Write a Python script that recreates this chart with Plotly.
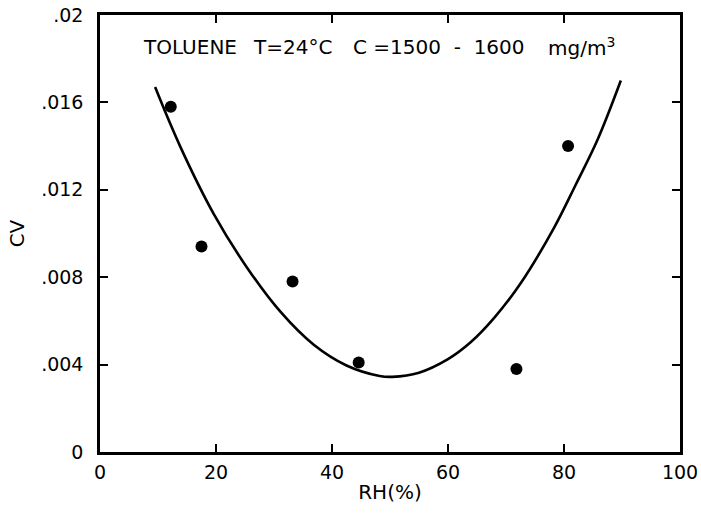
import plotly.graph_objects as go

# Measured data points
rh_points = [12.2, 17.5, 33.2, 44.6, 71.8, 80.7]
cv_points = [0.0158, 0.0094, 0.0078, 0.0041, 0.0038, 0.0140]

# Fitted curve
rh_curve = [9.5, 13.8, 19.6, 25.3, 31.1, 36.8, 42.5, 48.2, 50.4, 55.0, 60.0, 63.9, 68.0, 72.5, 78.3, 82.0, 85.8, 89.8]
cv_curve = [0.0167, 0.0140, 0.0109, 0.00846, 0.00642, 0.00492, 0.00396, 0.00348, 0.00344,
            0.00363, 0.00425, 0.00502, 0.00615, 0.00771, 0.01027, 0.01222, 0.0143, 0.0170]

x_ticks = [0, 20, 40, 60, 80, 100]
x_ticktext = ["0", "20", "40", "60", "80", "100"]
y_ticks = [0, 0.004, 0.008, 0.012, 0.016, 0.02]
y_ticktext = ["0", ".004", ".008", ".012", ".016", ".02"]

FONT = "DejaVu Sans, sans-serif"
NB = "\u00a0"

fig = go.Figure()
fig.add_trace(go.Scatter(x=rh_curve, y=cv_curve, mode="lines",
                         line=dict(color="black", width=2.6, shape="spline", smoothing=1.0),
                         showlegend=False, hoverinfo="skip"))
fig.add_trace(go.Scatter(x=rh_points, y=cv_points, mode="markers",
                         marker=dict(color="black", size=12),
                         showlegend=False))

ann_y = 0.01855
labels = [(7.0, "TOLUENE"), (26.0, "T=24°C"), (43.2, "C" + NB + "=1500" + NB * 2 + "-" + NB * 2 + "1600"),
          (76.9, "mg/m<sup>3</sup>")]
for xx, txt in labels:
    fig.add_annotation(x=xx, y=ann_y, xref="x", yref="y", text=txt, showarrow=False,
                       xanchor="left", yanchor="middle",
                       font=dict(family=FONT, size=20, color="black"))

fig.update_layout(
    width=701, height=516,
    margin=dict(l=100, r=21, t=15, b=64),
    paper_bgcolor="white", plot_bgcolor="white",
    font=dict(family=FONT, size=19, color="black"),
    xaxis=dict(range=[0, 100], tickvals=x_ticks, ticktext=x_ticktext, automargin=False,
               ticklabeloverflow="allow",
               showgrid=False, zeroline=False, showline=True, linecolor="black", linewidth=2.5,
               mirror="ticks", ticks="inside", ticklen=8, tickwidth=2, tickcolor="black",
               tickfont=dict(family=FONT, size=19), ticklabelstandoff=1,
               title=dict(text="RH(%)", font=dict(family=FONT, size=20), standoff=4)),
    yaxis=dict(range=[0, 0.02], tickvals=y_ticks, ticktext=y_ticktext, automargin=False,
               ticklabeloverflow="allow",
               showgrid=False, zeroline=False, showline=True, linecolor="black", linewidth=2.5,
               mirror="ticks", ticks="inside", ticklen=8, tickwidth=2, tickcolor="black",
               tickfont=dict(family=FONT, size=19), ticklabelstandoff=10,
               title=dict(text="CV", font=dict(family=FONT, size=20), standoff=12)),
)

fig.write_html("out.html", config={"displayModeBar": False},
               post_script="document.body.style.margin='0';document.body.style.overflow='hidden';")
